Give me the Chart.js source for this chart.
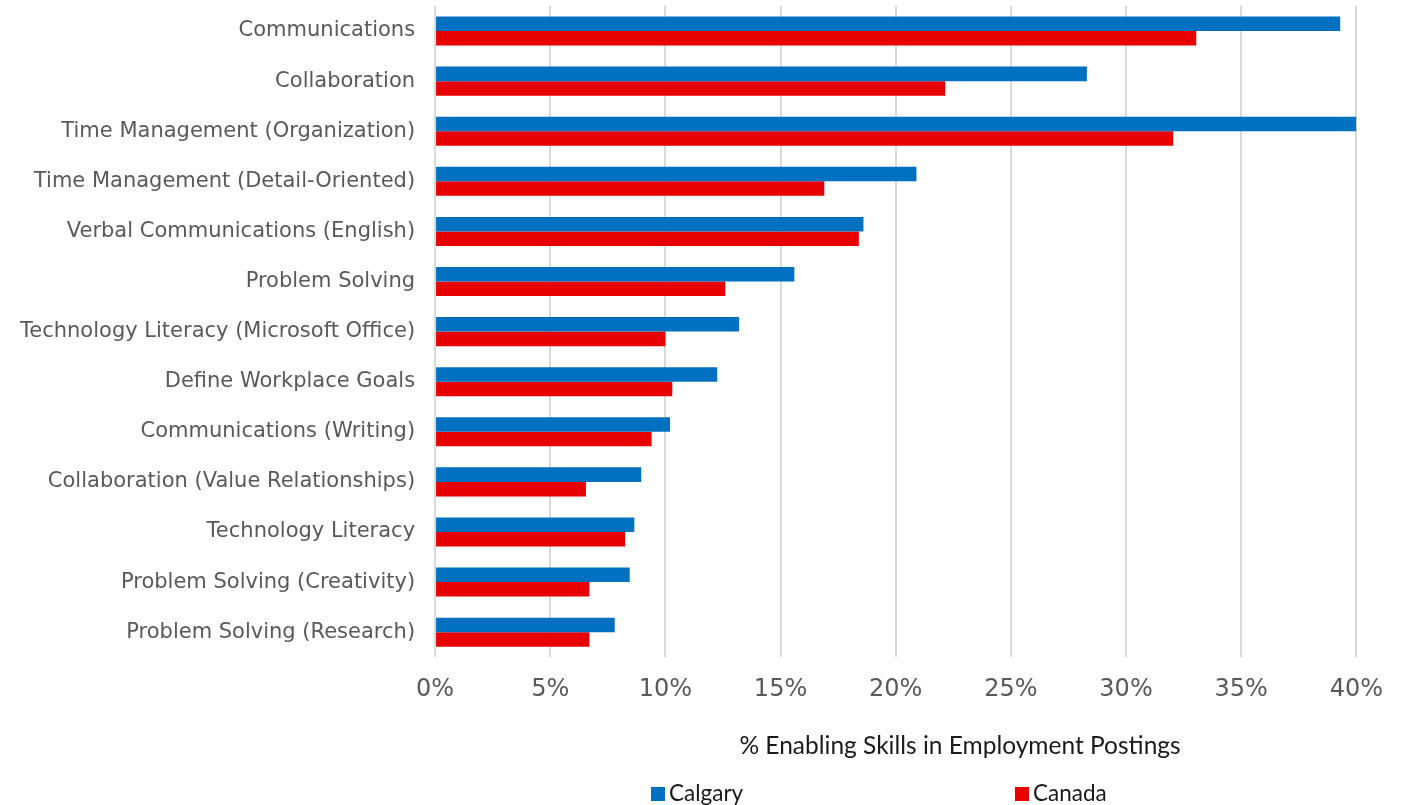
<!DOCTYPE html>
<html>
<head>
<meta charset="utf-8">
<title>Enabling Skills in Employment Postings</title>
<script src="https://cdn.jsdelivr.net/npm/chart.js@4.4.0/dist/chart.umd.min.js"></script>
<style>
  html, body { margin: 0; padding: 0; background: #fff; }
  #wrap { width: 1401px; height: 805px; }
</style>
</head>
<body>
<div id="wrap"><canvas id="skills" width="1401" height="805"></canvas></div>
<script>
const skills = [
  "Communications",
  "Collaboration",
  "Time Management (Organization)",
  "Time Management (Detail-Oriented)",
  "Verbal Communications (English)",
  "Problem Solving",
  "Technology Literacy (Microsoft Office)",
  "Define Workplace Goals",
  "Communications (Writing)",
  "Collaboration (Value Relationships)",
  "Technology Literacy",
  "Problem Solving (Creativity)",
  "Problem Solving (Research)"
];

// share of postings mentioning each skill, in %
const calgary = [39.3, 28.3, 40.0, 20.9, 18.6, 15.6, 13.2, 12.25, 10.2, 8.95, 8.65, 8.45, 7.8];
const canada  = [33.05, 22.15, 32.05, 16.9, 18.4, 12.6, 10.0, 10.3, 9.4, 6.55, 8.25, 6.7, 6.7];

const xTicks = [0, 5, 10, 15, 20, 25, 30, 35, 40];

const axisTitle = "% Enabling Skills in Employment Postings";

// axis title and legend sit below the tick labels, drawn by hand
const footer = {
  id: "footer",
  afterDraw(chart) {
    const ctx = chart.ctx;
    const area = chart.chartArea;
    ctx.save();
    ctx.fillStyle = "#1a1a1a";
    ctx.font = "24.5px Lato, 'Open Sans', sans-serif";
    ctx.textAlign = "center";
    ctx.textBaseline = "middle";
    ctx.fillText(axisTitle, area.left + 525, 746);

    ctx.font = "22.5px Lato, 'Open Sans', sans-serif";
    ctx.textAlign = "left";
    const spots = [651, 1015];
    chart.data.datasets.forEach((ds, i) => {
      const x = spots[i];
      ctx.fillStyle = ds.backgroundColor;
      ctx.fillRect(x, 787, 14, 14);
      ctx.fillStyle = "#1a1a1a";
      ctx.fillText(ds.label, x + 18, 794);
    });
    ctx.restore();
  }
};

new Chart(document.getElementById("skills"), {
  type: "bar",
  data: {
    labels: skills,
    datasets: [
      { label: "Calgary", data: calgary, backgroundColor: "#0070C0" },
      { label: "Canada", data: canada, backgroundColor: "#E80000" }
    ]
  },
  options: {
    indexAxis: "y",
    responsive: false,
    animation: false,
    datasets: {
      bar: { categoryPercentage: 0.58, barPercentage: 1.0 }
    },
    layout: { padding: { top: 6, right: 24, bottom: 83, left: 0 } },
    plugins: {
      legend: { display: false },
      tooltip: { enabled: false }
    },
    scales: {
      x: {
        min: 0,
        max: 40,
        afterBuildTicks(scale) {
          scale.ticks = xTicks.map(v => ({ value: v }));
        },
        ticks: {
          color: "#595959",
          padding: 18,
          font: { family: "'DejaVu Sans', Verdana, sans-serif", size: 24 },
          callback: v => v + "%"
        },
        grid: { color: "#d9d9d9", lineWidth: 2, drawTicks: false },
        border: { display: false }
      },
      y: {
        afterFit(scale) {
          scale.paddingTop = 0;
          scale.paddingBottom = 0;
        },
        ticks: {
          color: "#595959",
          padding: 20,
          font: { family: "'DejaVu Sans', Verdana, sans-serif", size: 21 }
        },
        grid: { display: false, drawTicks: false },
        border: { display: false }
      }
    }
  },
  plugins: [footer]
});
</script>
</body>
</html>
